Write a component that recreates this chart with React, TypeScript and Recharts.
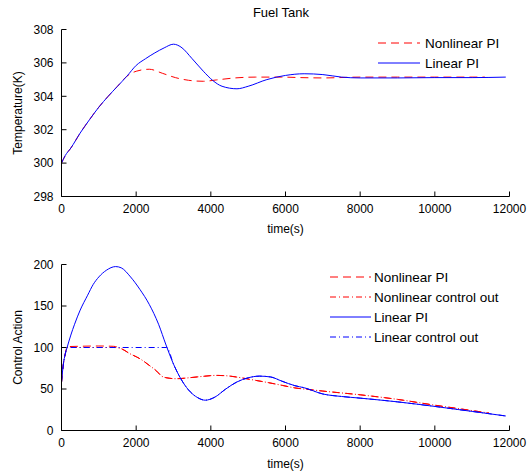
import React from 'react';
import { LineChart, Line, XAxis, YAxis, Label } from 'recharts';

// ---------- Data: top panel (Fuel Tank temperature) ----------
const timeTicks = [0, 2000, 4000, 6000, 8000, 10000, 12000];
const tempTicks = [298, 300, 302, 304, 306, 308];
const ctrlTicks = [0, 50, 100, 150, 200];

const tempNonlinearTime = [0, 100, 250, 500, 750, 1000, 1250, 1500, 1750, 2000, 2350, 2700, 3050, 3400, 3800, 4150, 4650, 5200, 5900, 6400, 7000, 8000, 9000, 10000, 11340];
const tempNonlinear = [300, 300.45, 300.9, 301.8, 302.6, 303.35, 304.0, 304.6, 305.2, 305.5, 305.62, 305.38, 305.12, 304.96, 304.9, 304.98, 305.1, 305.15, 305.15, 305.12, 305.1, 305.15, 305.15, 305.15, 305.15];

const tempLinearTime = [0, 100, 250, 500, 750, 1000, 1250, 1500, 1750, 2000, 2250, 2500, 2750, 3000, 3200, 3500, 3800, 4050, 4300, 4700, 5000, 5500, 6000, 6500, 7000, 7500, 8000, 9000, 10000, 11000, 11900];
const tempLinear = [300, 300.45, 300.9, 301.8, 302.6, 303.35, 304.0, 304.6, 305.2, 305.85, 306.25, 306.6, 306.9, 307.12, 306.95, 306.25, 305.5, 304.95, 304.6, 304.45, 304.6, 305.0, 305.25, 305.35, 305.3, 305.15, 305.1, 305.1, 305.12, 305.12, 305.15];

// ---------- Data: bottom panel (Control action) ----------
const ctrlLinearPITime = [0, 50, 100, 150, 250, 350, 500, 700, 850, 1000, 1200, 1450, 1600, 1850, 2100, 2350, 2600, 2800, 3000, 3200, 3400, 3650, 3850, 4100, 4400, 4700, 5000, 5300, 5600, 5900, 6250, 6500, 7000, 7500, 8000, 9000, 10000, 11000, 11900];
const ctrlLinearPI = [58, 80, 92, 100, 115, 128, 145, 163, 176, 185, 193, 197.5, 196, 185, 170, 152, 128, 103, 80, 62, 49, 39.5, 36.5, 40, 50, 58.5, 63.5, 65.5, 64.5, 59.5, 54, 51.5, 44, 41, 39, 34.5, 29, 23, 17.5];

const ctrlLinearOutTime = [0, 50, 100, 150, 2820, 3000, 3200, 3400, 3650, 3850, 4100, 4400, 4700, 5000, 5300, 5600, 5900, 6250, 6500, 7000, 7500, 8000, 9000, 10000, 11000, 11900];
const ctrlLinearOut = [58, 80, 92, 100, 100, 80, 62, 49, 39.5, 36.5, 40, 50, 58.5, 63.5, 65.5, 64.5, 59.5, 54, 51.5, 44, 41, 39, 34.5, 29, 23, 17.5];

const ctrlNonlinearPITime = [0, 50, 100, 150, 500, 1000, 1400, 1600, 1830, 2100, 2350, 2550, 2680, 2800, 3070, 3430, 3780, 4140, 4500, 4850, 5200, 5560, 5920, 6280, 6600, 7000, 8000, 9000, 10000, 11000, 11450];
const ctrlNonlinearPI = [58, 80, 92, 101, 101.5, 101.8, 101.4, 98.6, 92.6, 86.5, 78.5, 71.5, 65.6, 63.6, 62.4, 63.6, 65.2, 66.4, 65.6, 63.2, 60.4, 57.5, 54.3, 51.1, 49.5, 47.5, 43, 37.5, 30.5, 24, 21];

const ctrlNonlinearOutTime = [0, 50, 100, 150, 500, 1000, 1400, 1600, 1830, 2100, 2350, 2550, 2680, 2800, 3070, 3430, 3780, 4140, 4500, 4850, 5200, 5560, 5920, 6280, 6600, 7000, 8000, 9000, 10000, 11000, 11450];
const ctrlNonlinearOut = [58, 80, 92, 100, 100, 100, 100, 98.6, 92.6, 86.5, 78.5, 71.5, 65.6, 63.6, 62.4, 63.6, 65.2, 66.4, 65.6, 63.2, 60.4, 57.5, 54.3, 51.1, 49.5, 47.5, 43, 37.5, 30.5, 24, 21];

const toPoints = (ts: number[], vs: number[]) => ts.map((t, i) => ({ t, v: vs[i] }));

const FONT = '"Liberation Sans", Arial, Helvetica, sans-serif';
const RED = '#ff0000';
const BLUE = '#0000ff';
const DASH = '8 5';
const DASHDOT = '6 3 1 3';

type Series = { name: string; color: string; dash?: string; points: { t: number; v: number }[] };

const topSeries: Series[] = [
  { name: 'Nonlinear PI', color: RED, dash: DASH, points: toPoints(tempNonlinearTime, tempNonlinear) },
  { name: 'Linear PI', color: BLUE, points: toPoints(tempLinearTime, tempLinear) },
];

const bottomSeries: Series[] = [
  { name: 'Nonlinear PI', color: RED, dash: DASH, points: toPoints(ctrlNonlinearPITime, ctrlNonlinearPI) },
  { name: 'Nonlinear control out', color: RED, dash: DASHDOT, points: toPoints(ctrlNonlinearOutTime, ctrlNonlinearOut) },
  { name: 'Linear PI', color: BLUE, points: toPoints(ctrlLinearPITime, ctrlLinearPI) },
  { name: 'Linear control out', color: BLUE, dash: DASHDOT, points: toPoints(ctrlLinearOutTime, ctrlLinearOut) },
];

const tickStyle = { fill: '#000', fontSize: 12, fontFamily: FONT };
const axisStroke = { stroke: '#000' };

function LegendBox(props: { series: Series[]; left: number; top: number; lineStart: number; lineEnd: number; textX: number }) {
  const { series, left, top, lineStart, lineEnd, textX } = props;
  const rowH = 20;
  return (
    <svg
      width={200}
      height={series.length * rowH}
      style={{ position: 'absolute', left, top, overflow: 'visible' }}
    >
      {series.map((s, i) => (
        <g key={s.name}>
          <line
            x1={lineStart}
            x2={lineEnd}
            y1={i * rowH + 10}
            y2={i * rowH + 10}
            stroke={s.color}
            strokeWidth={1}
            strokeDasharray={s.dash}
          />
          <text x={textX} y={i * rowH + 15} fontFamily={FONT} fontSize={13.5} fill="#000">
            {s.name}
          </text>
        </g>
      ))}
    </svg>
  );
}

function Panel(props: {
  height: number;
  marginTop: number;
  xAxisHeight: number;
  yDomain: [number, number];
  yTicks: number[];
  yLabel: string;
  series: Series[];
}) {
  const { height, marginTop, xAxisHeight, yDomain, yTicks, yLabel, series } = props;
  return (
    <LineChart width={530} height={height} margin={{ top: marginTop, right: 20.5, bottom: 0, left: 0 }}>
      <XAxis
        xAxisId="x"
        type="number"
        dataKey="t"
        domain={[0, 12000]}
        ticks={timeTicks}
        interval={0}
        allowDataOverflow
        height={xAxisHeight}
        tick={tickStyle}
        tickLine={axisStroke}
        axisLine={axisStroke}
        tickSize={-5}
        tickMargin={13}
      >
        <Label value="time(s)" position="insideBottom" offset={7} style={{ fill: '#000', fontSize: 12, fontFamily: FONT }} />
      </XAxis>
      <XAxis
        xAxisId="xt"
        orientation="top"
        type="number"
        domain={[0, 12000]}
        ticks={timeTicks}
        interval={0}
        allowDataOverflow
        height={0}
        tick={false}
        tickLine={axisStroke}
        axisLine={axisStroke}
        tickSize={-5}
      />
      <YAxis
        yAxisId="y"
        type="number"
        domain={yDomain}
        ticks={yTicks}
        interval={0}
        allowDataOverflow
        width={61.5}
        tick={tickStyle}
        tickLine={axisStroke}
        axisLine={axisStroke}
        tickSize={-5}
        tickMargin={13}
      >
        <Label
          value={yLabel}
          angle={-90}
          position="insideLeft"
          offset={17.5}
          style={{ fill: '#000', fontSize: 12, fontFamily: FONT, textAnchor: 'middle' }}
        />
      </YAxis>
      <YAxis
        yAxisId="yr"
        orientation="right"
        type="number"
        domain={yDomain}
        ticks={yTicks}
        interval={0}
        allowDataOverflow
        width={0}
        tick={false}
        tickLine={axisStroke}
        axisLine={axisStroke}
        tickSize={-5}
      />
      {series.map((s) => (
        <Line
          key={s.name}
          xAxisId="x"
          yAxisId="y"
          data={s.points}
          dataKey="v"
          name={s.name}
          type="monotone"
          stroke={s.color}
          strokeWidth={1}
          strokeDasharray={s.dash}
          dot={false}
          activeDot={false}
          isAnimationActive={false}
        />
      ))}
    </LineChart>
  );
}

export default function App() {
  return (
    <div style={{ position: 'absolute', left: 0, top: 0, width: 530, height: 475, background: '#fff', overflow: 'hidden' }}>
      <div
        style={{
          position: 'absolute',
          left: 0,
          width: 562,
          top: 4,
          textAlign: 'center',
          fontFamily: FONT,
          fontSize: 13,
          lineHeight: '18px',
          color: '#000',
        }}
      >
        Fuel Tank
      </div>
      <div style={{ position: 'absolute', left: 0, top: 0 }}>
        <Panel
          height={240}
          marginTop={29.5}
          xAxisHeight={43.5}
          yDomain={[298, 308]}
          yTicks={tempTicks}
          yLabel="Temperature(K)"
          series={topSeries}
        />
      </div>
      <div style={{ position: 'absolute', left: 0, top: 240 }}>
        <Panel
          height={235}
          marginTop={24.5}
          xAxisHeight={44.5}
          yDomain={[0, 200]}
          yTicks={ctrlTicks}
          yLabel="Control Action"
          series={bottomSeries}
        />
      </div>
      <LegendBox series={topSeries} left={0} top={32.5} lineStart={378} lineEnd={420} textX={425} />
      <LegendBox series={bottomSeries} left={0} top={266.5} lineStart={330} lineEnd={371} textX={374} />
    </div>
  );
}
